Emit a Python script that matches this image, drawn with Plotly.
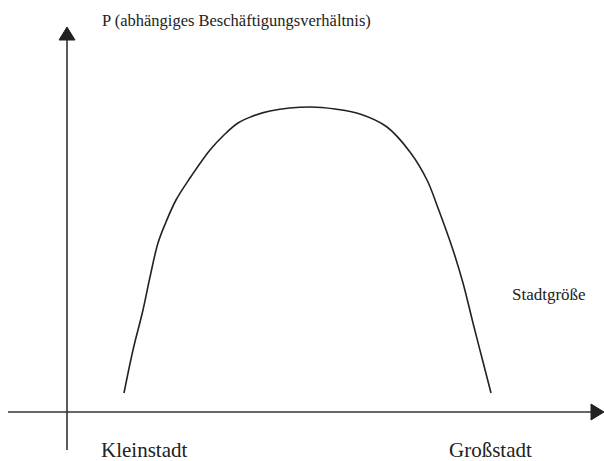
import plotly.graph_objects as go

# curve (x: Stadtgroesse, y: P), origin at the axis crossing
city_size = [57, 66, 76, 83, 91, 99, 109, 123, 143, 157, 171, 186, 203, 243, 268, 293,
             320, 343, 360, 371, 386, 396, 406, 415, 424]
p_values = [19, 62, 102, 135, 169, 190, 212, 234, 262, 277, 289, 296, 301, 305, 303, 298,
            285, 260, 232, 204, 162, 129, 89, 54, 19]

x_range = [-67, 537]
y_range = [-49, 412]
x_axis_start, x_axis_tip = -59, 537
y_axis_start, y_axis_tip = -38, 385
head_len, head_half = 13, 8

serif = 'Liberation Serif, Times New Roman, serif'
ink = '#222222'

fig = go.Figure()
fig.add_trace(go.Scatter(x=city_size, y=p_values, mode='lines',
                         line=dict(color=ink, width=1.6, shape='spline', smoothing=1),
                         hoverinfo='skip', showlegend=False))

shapes = []
# axes
shapes.append(dict(type='line', xref='x', yref='y', x0=x_axis_start, y0=0,
                   x1=x_axis_tip - head_len, y1=0, line=dict(color='#333333', width=1.6)))
shapes.append(dict(type='line', xref='x', yref='y', x0=0, y0=y_axis_start,
                   x1=0, y1=y_axis_tip - head_len, line=dict(color='#333333', width=1.6)))
# arrow heads
shapes.append(dict(type='path', xref='x', yref='y',
                   path='M %d,%d L %d,%d L %d,%d Z' % (x_axis_tip - head_len, head_half,
                                                     x_axis_tip, 0,
                                                     x_axis_tip - head_len, -head_half),
                   fillcolor=ink, line=dict(color=ink, width=1)))
shapes.append(dict(type='path', xref='x', yref='y',
                   path='M %d,%d L %d,%d L %d,%d Z' % (-head_half, y_axis_tip - head_len,
                                                     0, y_axis_tip,
                                                     head_half, y_axis_tip - head_len),
                   fillcolor=ink, line=dict(color=ink, width=1)))

labels = [
    ('P (abhängiges Beschäftigungsverhältnis)', 33, 392, 16.5),
    ('Stadtgröße', 443, 118, 17),
    ('Kleinstadt', 32, -38, 21),
    ('Großstadt', 380, -38, 21),
]
annotations = []
for text, lx, ly, size in labels:
    annotations.append(dict(text=text, x=lx, y=ly, xref='x', yref='y', showarrow=False,
                            xanchor='left', yanchor='middle',
                            font=dict(family=serif, size=size, color=ink)))

layout = dict()
layout['width'] = 604
layout['height'] = 461
layout['margin'] = dict(l=0, r=0, t=0, b=0)
layout['paper_bgcolor'] = 'white'
layout['plot_bgcolor'] = 'white'
layout['xaxis'] = dict(range=x_range, visible=False, fixedrange=True)
layout['yaxis'] = dict(range=y_range, visible=False, fixedrange=True)
layout['shapes'] = shapes
layout['annotations'] = annotations
fig.update_layout(layout)

# drop the default page margin so the figure fills the window exactly
fig.write_html('out.html', config=dict(displayModeBar=False),
               post_script="document.body.style.margin='0px';document.body.style.overflow='hidden';")
